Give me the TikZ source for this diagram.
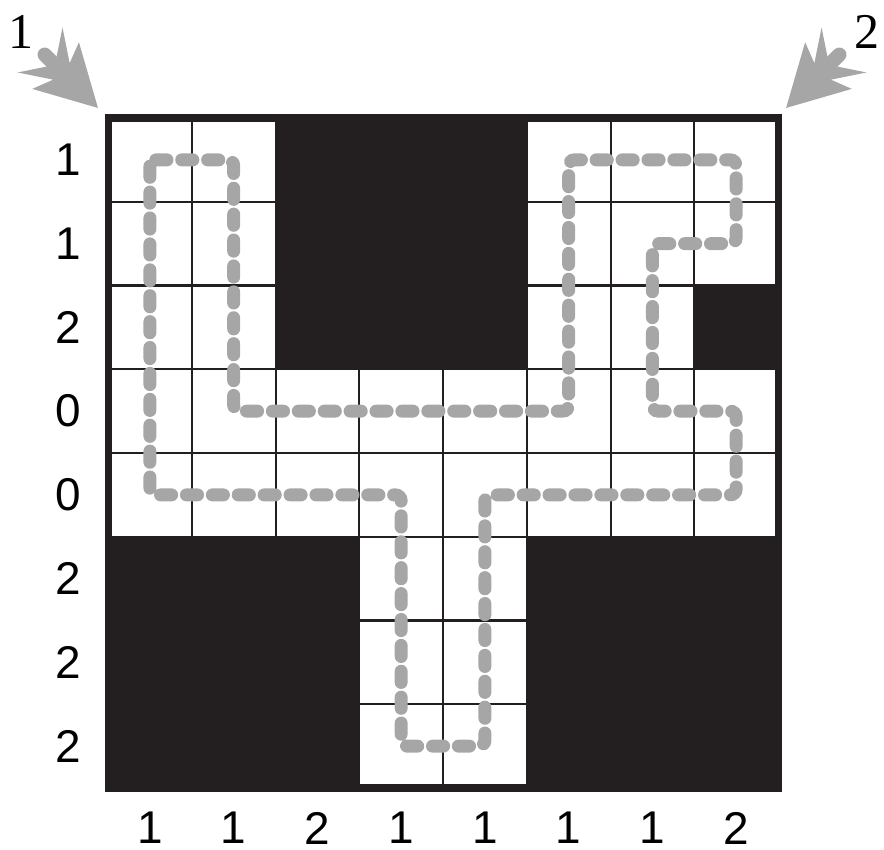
\documentclass[tikz,border=0pt]{standalone}
\usepackage{fontspec}
\setmainfont{Liberation Serif}
\setsansfont{Liberation Sans}
\usetikzlibrary{positioning}
\definecolor{Ink}{HTML}{231F20}
\definecolor{TrackGray}{HTML}{A6A6A6}

\begin{document}
\begin{tikzpicture}[
  wall/.style={fill=Ink},
  gridline/.style={draw=Ink,line width=0.7pt},
  frame/.style={draw=Ink,line width=2.4pt},
  track/.style={draw=TrackGray,line width=4.4pt,line cap=round,dash pattern=on 3.8pt off 5pt,rounded corners=2pt},
  clue/.style={font=\sffamily\fontsize{15.6}{16}\selectfont,inner sep=0pt},
  entry/.style={font=\fontsize{17}{18}\selectfont,inner sep=0pt},
  shaftarrow/.pic={
    \fill[TrackGray] (0,0) -- (-0.716,0.394) -- (-0.617,0.139) -- (-0.979,0.38) -- (-0.78,0.08)
      -- (-0.78,-0.08) -- (-0.979,-0.38) -- (-0.617,-0.139) -- (-0.716,-0.394) -- cycle;
    \draw[TrackGray,line width=0.17cm,line cap=round] (-0.7,0) -- (-0.9,0);
  }
]
\useasboundingbox (-1.29,-0.74) rectangle (9.265,9.409);

% walls
\fill[wall] (2,5) rectangle (5,8);
\fill[wall] (7,5) rectangle (8,6);
\fill[wall] (0,0) rectangle (3,3);
\fill[wall] (5,0) rectangle (8,3);

% grid
\foreach \i in {1,...,7} {\draw[gridline] (\i,0) -- (\i,8); \draw[gridline] (0,\i) -- (8,\i);}
\draw[frame] (0,0) rectangle (8,8);

% loop through the white cells
\draw[track] (0.5,7.5) -- (1.5,7.5) -- (1.5,4.5) -- (5.5,4.5) -- (5.5,7.5) -- (7.5,7.5) -- (7.5,6.5)
  -- (6.5,6.5) -- (6.5,4.5) -- (7.5,4.5) -- (7.5,3.5) -- (4.5,3.5) -- (4.5,0.5) -- (3.5,0.5)
  -- (3.5,3.5) -- (0.5,3.5) -- cycle;

% clues
\foreach \v [count=\r] in {1,1,2,0,0,2,2,2} \node[clue] (row\r) at (-0.478,8.5-\r) {\v};
\foreach \v [count=\c] in {1,1,2,1,1,1,1,2} \node[clue] (col\c) at (\c-0.5,-0.478) {\v};

% entries
\node[entry] (in1) at (-1.04,9.03) {1};
\node[entry] (in2) at (9.06,9.03) {2};
\pic[rotate=-45] at (-0.12,8.12) {shaftarrow};
\pic[rotate=-135] at (8.096,8.12) {shaftarrow};
\end{tikzpicture}
\end{document}
